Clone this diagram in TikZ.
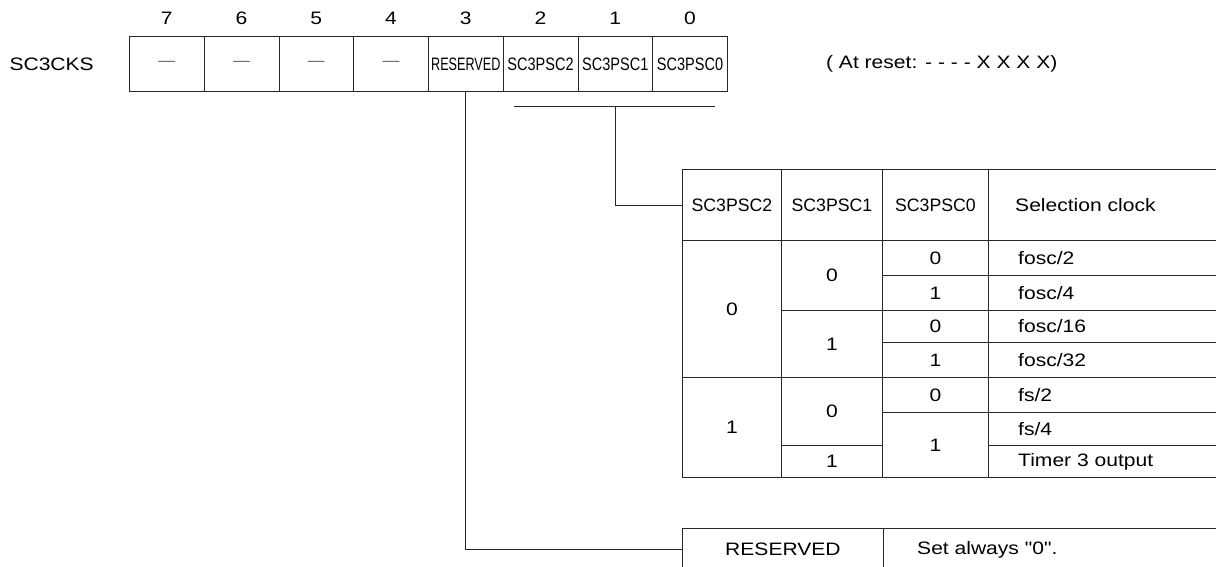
\documentclass[tikz,border=0pt]{standalone}
\usepackage{fontspec}
\setmainfont{Liberation Sans}[FakeStretch=1.17, Ligatures=TeXOff]
\usetikzlibrary{positioning}

\newcommand\nodash{\textcolor{black!55}{\scalebox{0.8}[1]{—}}}
\newcommand\narrow[2]{\scalebox{#1}[1]{#2}}

\begin{document}
\begin{tikzpicture}[x=1pt, y=-1pt, font=\fontsize{18}{21}\selectfont,
    ln/.style={draw=black!85, line width=0.9pt},
    bitcell/.style={ln, anchor=north west, minimum width=74.75pt, minimum height=55pt, inner sep=0pt},
    tc/.style={ln, anchor=north west, inner sep=0pt},
    lbl/.style={inner sep=0pt}]
  \useasboundingbox (0,0) rectangle (1216,566);
  % register bits
  \foreach \n/\t in {7/\nodash, 6/\nodash, 5/\nodash, 4/\nodash,
      3/{\narrow{0.6}{RESERVED}}, 2/{\narrow{0.69}{SC3PSC2}},
      1/{\narrow{0.69}{SC3PSC1}}, 0/{\narrow{0.69}{SC3PSC0}}} {
    \node[bitcell] (b\n) at ({129+(7-\n)*74.75},36) {\t};
    \node[lbl, above=11pt of b\n] (n\n) {\n};
  }
  \node[lbl, left=35pt of b7] (reg) {SC3CKS};
  \node[lbl, right=98pt of b0] (rst) {( At reset: - - - - X X X X)};

  % prescaler table
  \node[tc, minimum width=99, minimum height=71] (h2) at (682,169) {\narrow{0.84}{SC3PSC2}};
  \node[tc, minimum width=101, minimum height=71] (h1) at (781,169) {\narrow{0.84}{SC3PSC1}};
  \node[tc, minimum width=106, minimum height=71] (h0) at (882,169) {\narrow{0.84}{SC3PSC0}};
  \node[tc, minimum width=242, minimum height=71] (hclk) at (988,169) {};
  \node[lbl, anchor=west] (clk) at ([xshift=27pt]hclk.west) {Selection clock};
  \foreach \x/\y/\w/\h/\t [count=\i] in {682/240/99/137/0, 682/377/99/100/1,
      781/240/101/70/0, 781/310/101/67/1, 781/377/101/68/0, 781/445/101/32/1,
      882/240/106/35/0, 882/275/106/35/1, 882/310/106/32/0, 882/342/106/35/1,
      882/377/106/35/0, 882/412/106/65/1}
    \node[tc, minimum width=\w, minimum height=\h] (c\i) at (\x,\y) {\t};
  \foreach \y/\h/\t [count=\i] in {240/35/{fosc/2}, 275/35/{fosc/4}, 310/32/{fosc/16},
      342/35/{fosc/32}, 377/35/{fs/2}, 412/33/{fs/4}, 445/32/{Timer 3 output}} {
    \node[tc, minimum width=242, minimum height=\h] (s\i) at (988,\y) {};
    \node[lbl, anchor=west] (sl\i) at ([xshift=30pt]s\i.west) {\t};
  }

  % reserved bit
  \node[tc, minimum width=201, minimum height=42] (rsv) at (682,528) {RESERVED};
  \node[tc, minimum width=340, minimum height=42] (rsvd) at (883,528) {};
  \node[lbl, anchor=west] (rsvl) at ([xshift=34pt]rsvd.west) {Set always "0".};

  % connectors
  \coordinate (brl) at (514,106);
  \coordinate (brr) at (715,106);
  \draw[ln] (brl) -- (brr);
  \draw[ln] (b1.south |- brl) |- (h2.west);
  \draw[ln] (b3.south) |- (rsv.west);
\end{tikzpicture}
\end{document}
